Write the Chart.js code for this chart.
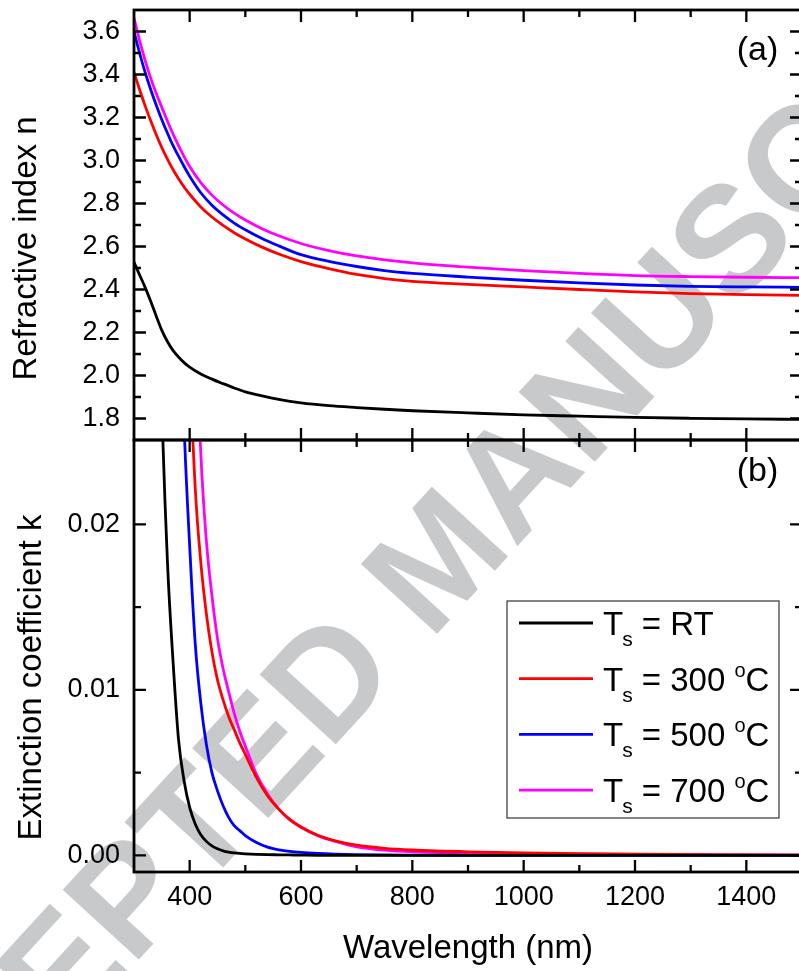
<!DOCTYPE html>
<html>
<head>
<meta charset="utf-8">
<script src="https://cdn.jsdelivr.net/npm/chart.js@4.4.1/dist/chart.umd.min.js"></script>
<style>
  html, body { margin: 0; padding: 0; background: #fff; overflow: hidden; }
  #wrap { position: relative; width: 799px; height: 971px; overflow: hidden; }
  #wrap canvas { position: absolute; left: 0; }
  #chartN { top: 0; }
  #chartK { top: 438px; }
  #stamp {
    position: absolute; left: 437px; top: 557px;
    transform: translate(-50%, -50%) rotate(-47.5deg);
    font: bold 150px 'Liberation Sans', Arial, sans-serif;
    color: #c8c9cb; white-space: nowrap; line-height: 1;
  }
</style>
</head>
<body>
<div id="wrap">
  <div id="stamp">ACCEPTED MANUSCRIPT</div>
  <canvas id="chartN" width="805" height="442"></canvas>
  <canvas id="chartK" width="805" height="533"></canvas>
</div>
<script>
// Wavelength (nm) for the refractive index panel
const waveN = [300, 310, 320, 330, 340, 350, 360, 370, 380, 390, 400, 420, 440, 460, 480, 500, 530, 560, 600, 650, 700, 750, 800, 900, 1000, 1100, 1200, 1300, 1400, 1500];
const nRT  = [2.527, 2.468, 2.41, 2.345, 2.276, 2.21, 2.158, 2.117, 2.086, 2.06, 2.039, 2.007, 1.983, 1.962, 1.942, 1.924, 1.905, 1.889, 1.873, 1.860, 1.851, 1.843, 1.836, 1.826, 1.817, 1.811, 1.805, 1.801, 1.798, 1.796];
const n300 = [3.41, 3.33, 3.254, 3.185, 3.12, 3.06, 3.006, 2.958, 2.915, 2.877, 2.843, 2.784, 2.737, 2.698, 2.664, 2.635, 2.597, 2.565, 2.530, 2.497, 2.470, 2.451, 2.438, 2.424, 2.412, 2.400, 2.389, 2.381, 2.376, 2.373];
const n500 = [3.60, 3.50, 3.41, 3.33, 3.257, 3.19, 3.128, 3.07, 3.02, 2.972, 2.927, 2.85, 2.792, 2.747, 2.709, 2.678, 2.637, 2.603, 2.562, 2.531, 2.507, 2.488, 2.475, 2.458, 2.443, 2.431, 2.421, 2.415, 2.412, 2.41];
const n700 = [3.662, 3.559, 3.466, 3.383, 3.312, 3.247, 3.184, 3.124, 3.069, 3.018, 2.972, 2.897, 2.839, 2.793, 2.755, 2.723, 2.683, 2.650, 2.614, 2.581, 2.556, 2.538, 2.524, 2.504, 2.488, 2.475, 2.465, 2.460, 2.457, 2.455];

// Wavelength (nm) for the extinction coefficient panel
const waveK = [340, 350, 360, 370, 380, 390, 400, 410, 420, 430, 440, 450, 460, 470, 480, 490, 500, 520, 540, 560, 580, 600, 630, 660, 700, 750, 800, 900, 1000, 1100, 1200, 1350, 1500];
const kRT  = [0.042, 0.0272, 0.0178, 0.0118, 0.0070, 0.0045, 0.0029, 0.0019, 0.00125, 0.00085, 0.00058, 0.0004, 0.00028, 0.0002, 0.00015, 0.00012, 0.0001, 0.00007, 0.00005, 0.00004, 0.00003, 0.00002, 0.00001, 0.00001, 0, 0, 0, 0, 0, 0, 0, 0, 0];
const k300 = [null, null, null, null, null, 0.042, 0.030, 0.0222, 0.0177, 0.0146, 0.0123, 0.0106, 0.0094, 0.0084, 0.0076, 0.0068, 0.0061, 0.0047, 0.0036, 0.0028, 0.00218, 0.00172, 0.00122, 0.0009, 0.00062, 0.00043, 0.00033, 0.00022, 0.00016, 0.00011, 0.00008, 0.00005, 0.00003];
const k500 = [null, null, null, null, 0.038, 0.026, 0.0187, 0.0128, 0.0092, 0.0067, 0.0050, 0.0039, 0.0030, 0.0023, 0.0018, 0.0015, 0.0012, 0.00078, 0.0005, 0.00034, 0.00024, 0.00018, 0.00012, 0.00008, 0.00005, 0.00003, 0.00002, 0.00001, 0, 0, 0, 0, 0];
const k700 = [null, null, null, null, null, null, 0.048, 0.0335, 0.0243, 0.0190, 0.0157, 0.0131, 0.0113, 0.0099, 0.0086, 0.0075, 0.0066, 0.0049, 0.0037, 0.0028, 0.00215, 0.0017, 0.0012, 0.00086, 0.00052, 0.00032, 0.00022, 0.00015, 0.00011, 0.00008, 0.00006, 0.00004, 0.00002];

const seriesTemps = ['RT', '300', '500', '700'];
const seriesColors = ['#000000', '#ff0000', '#0000ff', '#ff00ff'];

// tick values
const xMajor = [400, 600, 800, 1000, 1200, 1400];
const xMinor = [500, 700, 900, 1100, 1300, 1500];
const nMajor = [1.8, 2.0, 2.2, 2.4, 2.6, 2.8, 3.0, 3.2, 3.4, 3.6];
const nMinor = [1.9, 2.1, 2.3, 2.5, 2.7, 2.9, 3.1, 3.3, 3.5];
const kMajor = [0, 0.01, 0.02];
const kMinor = [0.005, 0.015];

const FONT = "'Liberation Sans', Arial, sans-serif";

function makeDatasets(xs, list) {
  return list.map(function (ys, i) {
    return {
      label: 'Ts = ' + seriesTemps[i] + (i ? ' \u00b0C' : ''),
      data: xs.map(function (x, j) { return { x: x, y: ys[j] }; }),
      borderColor: seriesColors[i],
      backgroundColor: seriesColors[i],
      borderWidth: 2.8,
      pointRadius: 0,
      cubicInterpolationMode: 'monotone',
      clip: 0
    };
  });
}

// frame, inward ticks, rotated y title, panel letter and legend
const framePlugin = {
  id: 'frame',
  afterDraw(chart, args, opts) {
    const ctx = chart.ctx, a = chart.chartArea;
    const xs = chart.scales.x, ys = chart.scales.y;
    ctx.save();
    ctx.strokeStyle = '#000';
    ctx.lineWidth = 2.3;
    ctx.beginPath();
    function xt(vals, len) {
      vals.forEach(function (v) {
        const p = xs.getPixelForValue(v);
        ctx.moveTo(p, a.bottom); ctx.lineTo(p, a.bottom - len);
        ctx.moveTo(p, a.top); ctx.lineTo(p, a.top + len);
      });
    }
    function yt(vals, len) {
      vals.forEach(function (v) {
        const p = ys.getPixelForValue(v);
        ctx.moveTo(a.left, p); ctx.lineTo(a.left + len, p);
        ctx.moveTo(a.right, p); ctx.lineTo(a.right - len, p);
      });
    }
    xt(opts.xMajor, 12); xt(opts.xMinor, 7);
    yt(opts.yMajor, 12); yt(opts.yMinor, 7);
    ctx.stroke();
    ctx.lineWidth = 2.8;
    ctx.strokeRect(a.left, a.top, a.right - a.left, a.bottom - a.top);

    ctx.fillStyle = '#000';
    ctx.font = '33px ' + FONT;
    ctx.save();
    ctx.translate(opts.title.x, opts.title.y);
    ctx.rotate(-Math.PI / 2);
    ctx.textAlign = 'center';
    ctx.textBaseline = 'middle';
    ctx.fillText(opts.title.text, 0, 0);
    ctx.restore();

    ctx.font = '34px ' + FONT;
    ctx.textAlign = 'center';
    ctx.textBaseline = 'alphabetic';
    ctx.fillText(opts.panel.text, opts.panel.x, opts.panel.y);

    const L = opts.legend;
    if (L) {
      ctx.fillStyle = '#fff';
      ctx.fillRect(L.left, L.top, L.width, L.height);
      ctx.strokeStyle = '#333';
      ctx.lineWidth = 1.2;
      ctx.strokeRect(L.left, L.top, L.width, L.height);
      chart.data.datasets.forEach(function (ds, i) {
        const y = L.top + L.first + i * L.step;
        ctx.strokeStyle = ds.borderColor;
        ctx.lineWidth = 2.8;
        ctx.beginPath();
        ctx.moveTo(L.left + 12, y); ctx.lineTo(L.left + 86, y);
        ctx.stroke();
        ctx.fillStyle = '#000';
        ctx.textAlign = 'left';
        const base = y + 12;
        let x = L.left + 96;
        ctx.font = '33px ' + FONT;
        ctx.fillText('T', x, base);
        x += ctx.measureText('T').width - 1;
        ctx.font = '21px ' + FONT;
        ctx.fillText('s', x, base + 11);
        x += ctx.measureText('s').width;
        ctx.font = '33px ' + FONT;
        const mid = ' = ' + seriesTemps[i] + (i ? ' ' : '');
        ctx.fillText(mid, x, base);
        x += ctx.measureText(mid).width;
        if (i) {
          ctx.font = '20px ' + FONT;
          ctx.fillText('o', x, base - 14);
          x += ctx.measureText('o').width;
          ctx.font = '33px ' + FONT;
          ctx.fillText('C', x, base);
        }
      });
    }
    ctx.restore();
  }
};

function yScale(min, max, ticks, fmt) {
  return {
    type: 'linear', min: min, max: max,
    afterFit: function (s) { s.width = 134; s.paddingTop = 0; s.paddingBottom = 0; },
    afterBuildTicks: function (s) { s.ticks = ticks.map(function (v) { return { value: v }; }); },
    grid: { display: false, drawTicks: false, tickLength: 0 },
    border: { display: false },
    ticks: { padding: 14, color: '#000', font: { family: FONT, size: 27 }, callback: fmt }
  };
}

new Chart(document.getElementById('chartN'), {
  type: 'line',
  data: { datasets: makeDatasets(waveN, [nRT, n300, n500, n700]) },
  options: {
    responsive: false,
    animation: false,
    layout: { padding: { top: 10, bottom: 2, left: 0, right: 3 } },
    plugins: {
      legend: { display: false },
      tooltip: { enabled: false },
      frame: {
        xMajor: xMajor, xMinor: xMinor, yMajor: nMajor, yMinor: nMinor,
        title: { text: 'Refractive index n', x: 26.5, y: 248.5 },
        panel: { text: '(a)', x: 757.5, y: 59.5 },
        legend: null
      }
    },
    scales: {
      x: { type: 'linear', min: 300, max: 1500, display: false },
      y: yScale(1.7, 3.7, nMajor, function (v) { return v.toFixed(1); })
    }
  },
  plugins: [framePlugin]
});

new Chart(document.getElementById('chartK'), {
  type: 'line',
  data: { datasets: makeDatasets(waveK, [kRT, k300, k500, k700]) },
  options: {
    responsive: false,
    animation: false,
    layout: { padding: { top: 2, bottom: 0, left: 0, right: 3 } },
    plugins: {
      legend: { display: false },
      tooltip: { enabled: false },
      frame: {
        xMajor: xMajor, xMinor: xMinor, yMajor: kMajor, yMinor: kMinor,
        title: { text: 'Extinction coefficient k', x: 31.5, y: 239.5 },
        panel: { text: '(b)', x: 757.5, y: 43 },
        legend: { left: 507, top: 163, width: 272, height: 217, first: 22, step: 55.7 }
      }
    },
    scales: {
      x: {
        type: 'linear', min: 300, max: 1500,
        afterFit: function (s) { s.height = 99; s.paddingLeft = 0; s.paddingRight = 0; },
        afterBuildTicks: function (s) { s.ticks = xMajor.map(function (v) { return { value: v }; }); },
        grid: { display: false, drawTicks: false, tickLength: 0 },
        border: { display: false },
        ticks: { padding: 9, autoSkip: false, maxRotation: 0, color: '#000', font: { family: FONT, size: 27 }, callback: function (v) { return String(v); } },
        title: { display: true, text: 'Wavelength (nm)', color: '#000', font: { family: FONT, size: 33 }, padding: { top: 0, bottom: 2 } }
      },
      y: yScale(-0.001, 0.0251, kMajor, function (v) { return v.toFixed(2); })
    }
  },
  plugins: [framePlugin]
});
</script>
</body>
</html>
